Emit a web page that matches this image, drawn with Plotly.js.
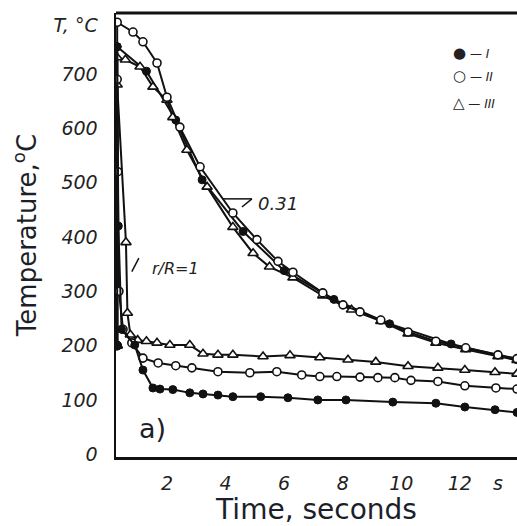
<!DOCTYPE html>
<html>
<head>
<meta charset="utf-8">
<script src="https://cdn.plot.ly/plotly-3.0.1.min.js"></script>
<style>html,body{margin:0;padding:0;background:#fff;}#chart{width:517px;height:526px;}</style>
</head>
<body>
<div id="chart"></div>
<script>
// ---- data (time in s, temperature in °C) ----
// r/R = 1 (surface)
const timeSurfI   = [0.3, 0.3, 0.34, 0.45, 0.9, 1.18, 1.52, 1.76, 2.2, 2.78, 3.23, 3.74, 4.25, 5.2, 6.13, 7.15, 8.11, 9.71, 11.18, 12.17, 13.2, 13.95];
const tempSurfI   = [200, 750, 420, 230, 201, 155, 122, 120, 119, 113, 111, 109, 106, 106, 104, 100, 100, 96, 94, 87, 82, 77];
const timeSurfII  = [0.3, 0.3, 0.32, 0.36, 0.5, 0.8, 1.18, 1.7, 2.3, 2.85, 3.74, 4.83, 5.75, 6.6, 7.22, 7.8, 8.59, 9.2, 9.78, 10.33, 11.25, 12.17, 13.23, 13.95];
const tempSurfII  = [200, 690, 520, 300, 230, 205, 177, 168, 163, 159, 152, 150, 152, 146, 143, 143, 142, 141, 141, 136, 134, 126, 122, 120];
const timeSurfIII = [0.3, 0.3, 0.6, 0.65, 0.75, 1.0, 1.3, 1.66, 2.1, 2.78, 3.23, 3.74, 4.25, 5.28, 6.2, 7.22, 8.18, 9.13, 10.23, 11.25, 12.17, 13.2, 13.95];
const tempSurfIII = [200, 680, 390, 260, 220, 210, 208, 205, 201, 201, 185, 183, 183, 180, 182, 178, 174, 170, 162, 159, 155, 151, 148];
// r/R = 0.31 (inside)
const timeInI   = [0.3, 0.3, 1.3, 2.3, 3.2, 4.6, 6.0, 7.7, 9.6, 11.7, 13.95];
const tempInI   = [200, 750, 705, 615, 505, 410, 338, 285, 240, 203, 174];
const timeInII  = [0.3, 0.3, 0.84, 1.18, 1.66, 2.0, 2.44, 3.13, 4.25, 5.07, 5.79, 6.3, 7.32, 8.01, 8.59, 9.3, 10.23, 11.18, 12.2, 13.3, 13.95];
const tempInII  = [200, 795, 777, 759, 720, 657, 602, 529, 444, 395, 355, 335, 297, 275, 262, 247, 225, 208, 196, 183, 176];
const timeInIII = [0.3, 0.3, 0.58, 1.08, 1.52, 2.0, 2.2, 2.68, 3.37, 4.25, 4.94, 5.5, 6.3, 7.32, 8.3, 9.3, 10.23, 11.18, 12.2, 13.3, 13.95];
const tempInIII = [200, 730, 726, 713, 676, 652, 620, 560, 492, 418, 370, 345, 325, 292, 266, 245, 222, 205, 193, 180, 173];

const xTickVals = [2, 4, 6, 8, 10, 12, 13.3];
const xTickText = ['2', '4', '6', '8', '10', '12', 's'];
const yTickVals = [0, 100, 200, 300, 400, 500, 600, 700, 790];
const yTickText = ['0', '100', '200', '300', '400', '500', '600', '700', 'T, °C'];
const legendSymbols = ['●', '○', '△'];
const legendNames = ['I', 'II', 'III'];

const lineStyle = {color: '#111', width: 2};
const filled = {symbol: 'circle', size: 8, color: '#111', line: {color: '#111', width: 1}};
const openC  = {symbol: 'circle', size: 8, color: '#fff', line: {color: '#111', width: 1.6}};
const openT  = {symbol: 'triangle-up', size: 9, color: '#fff', line: {color: '#111', width: 1.6}};

function tr(x, y, m) {
  return {x: x, y: y, type: 'scatter', mode: 'lines+markers', line: lineStyle, marker: m, showlegend: false, hoverinfo: 'skip'};
}

const data = [
  tr(timeInI, tempInI, filled),
  tr(timeInIII, tempInIII, openT),
  tr(timeInII, tempInII, openC),
  tr(timeSurfIII, tempSurfIII, openT),
  tr(timeSurfII, tempSurfII, openC),
  tr(timeSurfI, tempSurfI, filled)
];

const tickFont = {family: 'DejaVu Sans', size: 19, style: 'italic', color: '#222'};
const titleColor = '#1c1f2a';
const legendY = [0.935, 0.883, 0.822];

const legendAnn = legendSymbols.map((s, i) => ({
  x: 0.835, y: legendY[i], xref: 'paper', yref: 'paper', xanchor: 'left', showarrow: false,
  text: '<span style="font-size:15px">' + s + '</span> — <i>' + legendNames[i] + '</i>',
  font: {family: 'DejaVu Sans', size: 12, color: '#222'}
}));

const layout = {
  width: 517, height: 526,
  margin: {l: 116, r: 0, t: 13, b: 69},
  paper_bgcolor: '#fff', plot_bgcolor: '#fff',
  showlegend: false,
  xaxis: {
    range: [0.26, 13.95], showgrid: false, zeroline: false,
    showline: true, linecolor: '#111', linewidth: 2.5,
    tickmode: 'array', tickvals: xTickVals, ticktext: xTickText,
    ticks: '', tickfont: tickFont, ticklabelstandoff: 8,
    title: {text: 'Time, seconds', font: {family: 'DejaVu Sans', size: 28, color: titleColor}, standoff: 6}
  },
  yaxis: {
    range: [-5, 812], showgrid: false, zeroline: false,
    showline: true, linecolor: '#111', linewidth: 2.5,
    tickmode: 'array', tickvals: yTickVals, ticktext: yTickText,
    ticks: '', tickfont: tickFont, ticklabelstandoff: 12,
    title: {text: 'Temperature,<sup>o</sup>C', font: {family: 'DejaVu Sans', size: 26, color: titleColor}, standoff: 10}
  },
  shapes: [
    {type: 'line', xref: 'paper', yref: 'paper', x0: 0, x1: 1, y0: 1, y1: 1, line: {color: '#111', width: 3}},
    {type: 'line', xref: 'x', yref: 'y', x0: 3.91, x1: 4.9, y0: 470, y1: 470, line: {color: '#111', width: 1.5}},
    {type: 'line', xref: 'x', yref: 'y', x0: 4.56, x1: 4.9, y0: 455, y1: 470, line: {color: '#111', width: 1.5}},
    {type: 'line', xref: 'x', yref: 'y', x0: 0.8, x1: 1.04, y0: 336, y1: 361, line: {color: '#111', width: 1.5}}
  ],
  annotations: [
    {x: 5.8, y: 462, xref: 'x', yref: 'y', text: '0.31', showarrow: false,
     font: {family: 'DejaVu Sans', size: 18, style: 'italic', color: '#222'}},
    {x: 2.28, y: 342, xref: 'x', yref: 'y', text: 'r/R=1', showarrow: false,
     font: {family: 'DejaVu Sans', size: 16, style: 'italic', color: '#222'}},
    {x: 1.52, y: 48, xref: 'x', yref: 'y', text: 'a)', showarrow: false,
     font: {family: 'DejaVu Sans', size: 27, color: titleColor}}
  ].concat(legendAnn)
};

Plotly.newPlot('chart', data, layout, {staticPlot: true, displayModeBar: false});
</script>
</body>
</html>
